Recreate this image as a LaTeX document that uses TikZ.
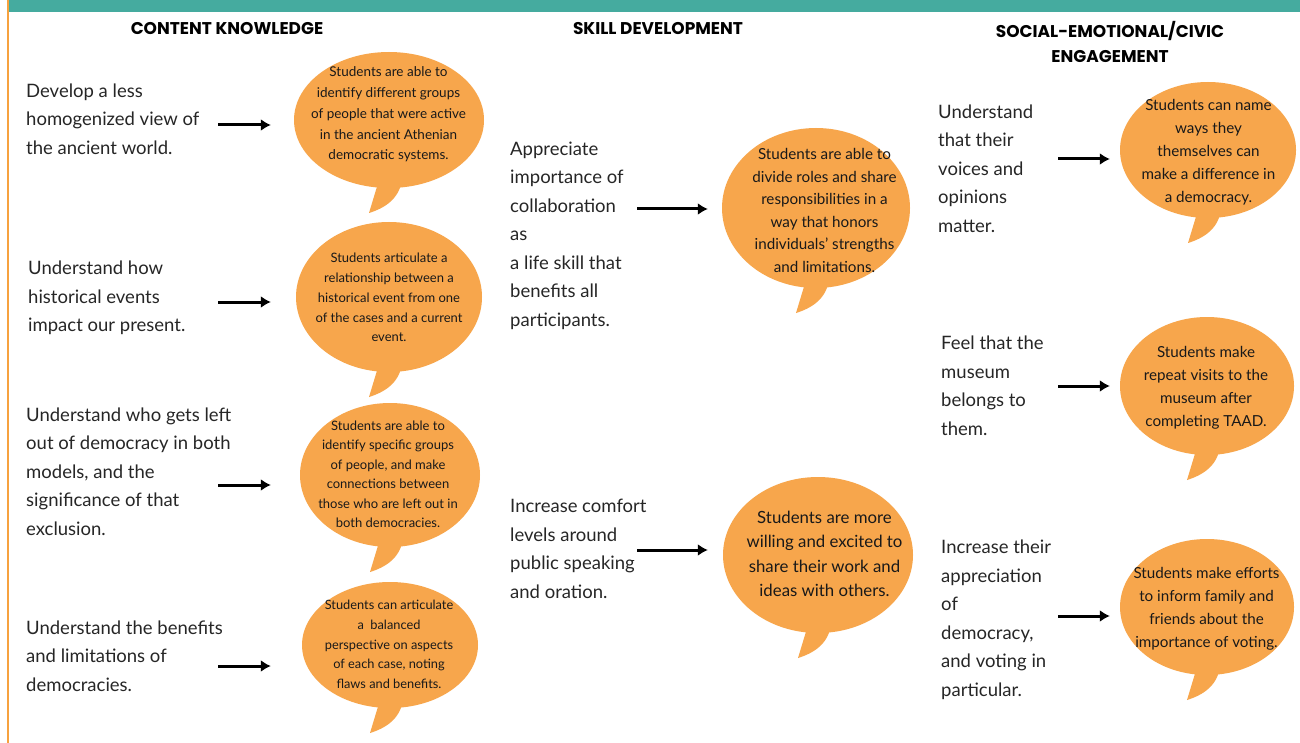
\documentclass[tikz,border=0pt]{standalone}
\usepackage{fontspec}
\setmainfont{Lato}
\newfontfamily\headfont{Poppins}
\usetikzlibrary{shapes.geometric,arrows.meta}

\definecolor{barteal}{HTML}{45AB9F}
\definecolor{edgeorange}{HTML}{F7A23F}
\definecolor{bubblefill}{HTML}{F7A64C}
\definecolor{inkgray}{HTML}{262626}

\begin{document}
\begin{tikzpicture}[x=1pt, y=-1pt,
        heading/.style={font=\headfont\bfseries\fontsize{17}{25}\selectfont, text=black, align=center, inner sep=0pt},
        goal/.style={anchor=west, align=left, inner sep=0pt, text=inkgray, font=\fontsize{18.5}{28.5}\selectfont},
        bubble/.style={ellipse, fill=bubblefill, inner sep=0pt},
        says/.style={align=center, inner sep=0pt, text=black!90},
        arr/.style={-{Latex[length=10pt,width=12pt]}, line width=3pt, black},
        tail/.pic={\fill[bubblefill] (-10,-8) -- (-20,25) .. controls (-4,20) and (10,11) .. (13,-8) -- cycle;}
    ]

    % page, top bar and left rule
    \fill[white] (0,0) rectangle (1300,743);
    \fill[barteal] (8,0) rectangle (1300,12);
    \fill[edgeorange] (6.5,0) rectangle (9,743);

    % column titles
    \node[heading] (hc) at (227,29) {CONTENT KNOWLEDGE};
    \node[heading] (hs) at (658,29) {SKILL DEVELOPMENT};
    \node[heading] (he) at (1110,41.5) {SOCIAL-EMOTIONAL/CIVIC\\ENGAGEMENT};

    % Content knowledge
    \node[goal] (g1) at (26,119) {Develop a less\\homogenized view of\\the ancient world.};
    \node[goal] (g2) at (28,298) {Understand how\\historical events\\impact our present.};
    \node[goal] (g3) at (26,471.5) {Understand who gets left\\out of democracy in both\\models, and the\\significance of that\\exclusion.};
    \node[goal] (g4) at (26,656) {Understand the benefits\\and limitations of\\democracies.};

    \pic at (389,188) {tail};
    \pic at (389,372) {tail};
    \pic at (390,547) {tail};
    \pic at (390,708) {tail};
    \node[bubble, minimum width=190, minimum height=136] (b1) at (389,120) {};
    \node[bubble, minimum width=186, minimum height=150] (b2) at (389,297) {};
    \node[bubble, minimum width=180, minimum height=144] (b3) at (390,475) {};
    \node[bubble, minimum width=176, minimum height=126] (b4) at (390,645) {};
    \node[says, font=\fontsize{13.5}{20.7}\selectfont] (s1) at (388.5,114.5) {Students are able to\\identify different groups\\of people that were active\\in the ancient Athenian\\democratic systems.};
    \node[says, font=\fontsize{13}{19.8}\selectfont] (s2) at (389,297.5) {Students articulate a\\relationship between a\\historical event from one\\of the cases and a current\\event.};
    \node[says, font=\fontsize{13}{19.5}\selectfont] (s3) at (388,474.5) {Students are able to\\identify specific groups\\of people, and make\\connections between\\those who are left out in\\both democracies.};
    \node[says, font=\fontsize{12.8}{19.8}\selectfont] (s4) at (389,644.5) {Students can articulate\\a\ \ balanced\\perspective on aspects\\of each case, noting\\flaws and benefits.};

    \coordinate (a1) at (218,125);
    \coordinate (a2) at (218,302);
    \coordinate (a3) at (218,485);
    \coordinate (a4) at (218,666);
    \draw[arr, shorten >=23] (a1) -- (a1 -| b1.west);
    \draw[arr, shorten >=25] (a2) -- (a2 -| b2.west);
    \draw[arr, shorten >=29] (a3) -- (a3 -| b3.west);
    \draw[arr, shorten >=31] (a4) -- (a4 -| b4.west);

    % Skill development
    \node[goal] (g5) at (510,235.5) {Appreciate\\importance of\\collaboration\\as\\a life skill that\\benefits all\\participants.};
    \node[goal] (g6) at (510,549) {Increase comfort\\levels around\\public speaking\\and oration.};

    \pic at (816,288) {tail};
    \pic at (818,633) {tail};
    \node[bubble, minimum width=188, minimum height=160] (b5) at (816,208) {};
    \node[bubble, minimum width=190, minimum height=156] (b6) at (818,555) {};
    \node[says, font=\fontsize{15.2}{22.6}\selectfont] (s5) at (824.5,210.5) {Students are able to\\divide roles and share\\responsibilities in a\\way that honors\\individuals' strengths\\and limitations.};
    \node[says, font=\fontsize{16.8}{24.5}\selectfont] (s6) at (824.5,554) {Students are more\\willing and excited to\\share their work and\\ideas with others.};

    \coordinate (a5) at (637,209);
    \coordinate (a6) at (637,550);
    \draw[arr, shorten >=14] (a5) -- (a5 -| b5.west);
    \draw[arr, shorten >=15] (a6) -- (a6 -| b6.west);

    % Social-emotional / civic engagement
    \node[goal] (g7) at (938,168.5) {Understand\\that their\\voices and\\opinions\\matter.};
    \node[goal] (g8) at (941,386) {Feel that the\\museum\\belongs to\\them.};
    \node[goal] (g9) at (941,620) {Increase their\\appreciation\\of\\democracy,\\and voting in\\particular.};

    \pic at (1208,218) {tail};
    \pic at (1207,455) {tail};
    \pic at (1207,675) {tail};
    \node[bubble, minimum width=176, minimum height=136] (b7) at (1208,150) {};
    \node[bubble, minimum width=174, minimum height=138] (b8) at (1207,386) {};
    \node[bubble, minimum width=174, minimum height=136] (b9) at (1207,607) {};
    \node[says, font=\fontsize{15.2}{23}\selectfont] (s7) at (1208.5,152) {Students can name\\ways they\\themselves can\\make a difference in\\a democracy.};
    \node[says, font=\fontsize{15.2}{23}\selectfont] (s8) at (1206,387.5) {Students make\\repeat visits to the\\museum after\\completing TAAD.};
    \node[says, font=\fontsize{15.2}{23}\selectfont] (s9) at (1206.5,608.5) {Students make efforts\\to inform family and\\friends about the\\importance of voting.};

    \coordinate (a7) at (1058,159);
    \coordinate (a8) at (1058,386);
    \coordinate (a9) at (1058,616);
    \draw[arr, shorten >=10] (a7) -- (a7 -| b7.west);
    \draw[arr, shorten >=10] (a8) -- (a8 -| b8.west);
    \draw[arr, shorten >=10] (a9) -- (a9 -| b9.west);
\end{tikzpicture}
\end{document}
